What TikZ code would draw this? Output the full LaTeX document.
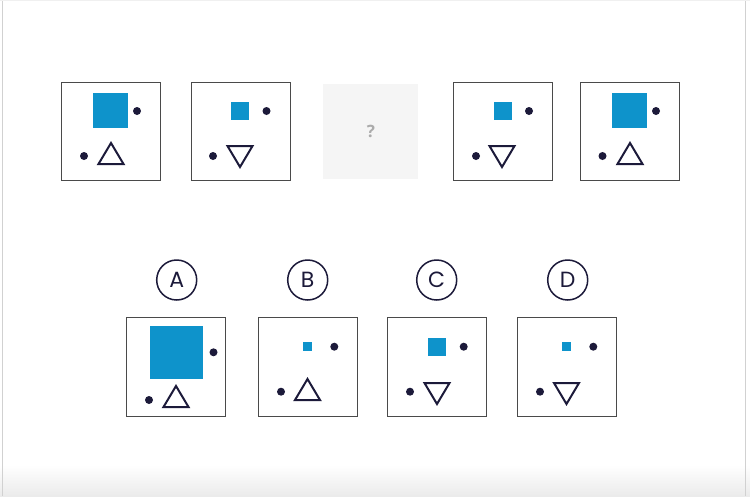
\documentclass[tikz,border=0pt]{standalone}
\usepackage{fontspec}
\setmainfont{Poppins}
\newfontfamily\qfont{Open Sans}
\definecolor{sqblue}{HTML}{0E93CB}
\definecolor{navy}{HTML}{1C1A3A}
\definecolor{frame}{HTML}{4A4A4A}
\definecolor{qgray}{HTML}{F5F5F5}
\definecolor{qmark}{HTML}{ABABAB}
\begin{document}
\begin{tikzpicture}[x=1pt,y=-1pt,
  panel/.style={draw=frame,line width=1pt,fill=white},
  bsq/.style={fill=sqblue},
  dotty/.style={fill=navy},
  tri/.style={draw=navy,line width=2pt,line join=miter},
  lab/.style={circle,draw=navy,line width=1.5pt,minimum size=40pt,inner sep=0pt,font=\fontsize{22}{22}\selectfont,text=navy}]
\useasboundingbox (0,0) rectangle (750,496);
% page
\fill[white] (0,0) rectangle (750,496);
\shade[top color=white,bottom color=black!8] (0,465) rectangle (750,496);
\draw[black!18,line width=1pt] (2.5,0) -- (2.5,496);
\draw[black!18,line width=1pt] (745.5,0) -- (745.5,496);
\draw[black!6,line width=2pt] (0,0) -- (750,0);
% ---------- top row ----------
% box 1
\draw[panel] (61,82) rectangle (160,180);
\fill[bsq] (93,93) rectangle (128,128);
\fill[dotty] (137,111) circle (4);
\fill[dotty] (84,156) circle (4);
\draw[tri] (111,143) -- (123.5,164) -- (98.5,164) -- cycle;
% box 2
\draw[panel] (191,82) rectangle (290,180);
\fill[bsq] (231,102) rectangle (249,120);
\fill[dotty] (266.5,111) circle (4);
\fill[dotty] (213,156) circle (4);
\draw[tri] (227.5,146) -- (252.5,146) -- (240,167) -- cycle;
% question box
\node[fill=qgray,minimum width=95pt,minimum height=95pt,inner sep=0pt] (q) at (370.5,131) {};
\node[text=qmark,font=\qfont\bfseries\fontsize{17}{17}\selectfont] (qm) at (371,131) {?};
% box 4
\draw[panel] (453,82) rectangle (552,180);
\fill[bsq] (493.5,102) rectangle (511.5,120);
\fill[dotty] (529,111) circle (4);
\fill[dotty] (476,156) circle (4);
\draw[tri] (489.5,146) -- (514.5,146) -- (502,167) -- cycle;
% box 5
\draw[panel] (580.5,82) rectangle (679,180);
\fill[bsq] (612,93) rectangle (647,128);
\fill[dotty] (656,111) circle (4);
\fill[dotty] (602.5,156) circle (4);
\draw[tri] (630,143) -- (642.5,164) -- (617.5,164) -- cycle;
% ---------- options ----------
\node[lab] (la) at (176.7,280) {A};
\node[lab] (lb) at (307.7,280) {B};
\node[lab] (lc) at (436.7,280) {C};
\node[lab] (ld) at (567.7,280) {D};
% A
\draw[panel] (126.5,317) rectangle (225.5,416.5);
\fill[bsq] (149.5,326) rectangle (202.5,379);
\fill[dotty] (213.5,352.3) circle (4);
\fill[dotty] (149,400) circle (4);
\draw[tri] (176,386) -- (188.5,407) -- (163.5,407) -- cycle;
% B
\draw[panel] (258,317) rectangle (357,416.5);
\fill[bsq] (303.3,342.3) rectangle (312.3,351.3);
\fill[dotty] (334.3,346.7) circle (4);
\fill[dotty] (281,391.7) circle (4);
\draw[tri] (307.5,379) -- (320,400) -- (295,400) -- cycle;
% C
\draw[panel] (387.5,317) rectangle (486.5,416.5);
\fill[bsq] (428,338) rectangle (446,356);
\fill[dotty] (463.7,346.7) circle (4);
\fill[dotty] (410,391.7) circle (4);
\draw[tri] (424.5,383) -- (449.5,383) -- (437,404) -- cycle;
% D
\draw[panel] (517,317) rectangle (616,416.5);
\fill[bsq] (561.7,342.3) rectangle (570.7,351.3);
\fill[dotty] (593.3,346.7) circle (4);
\fill[dotty] (540,391.7) circle (4);
\draw[tri] (554,383) -- (579,383) -- (566.5,404) -- cycle;
\end{tikzpicture}
\end{document}
